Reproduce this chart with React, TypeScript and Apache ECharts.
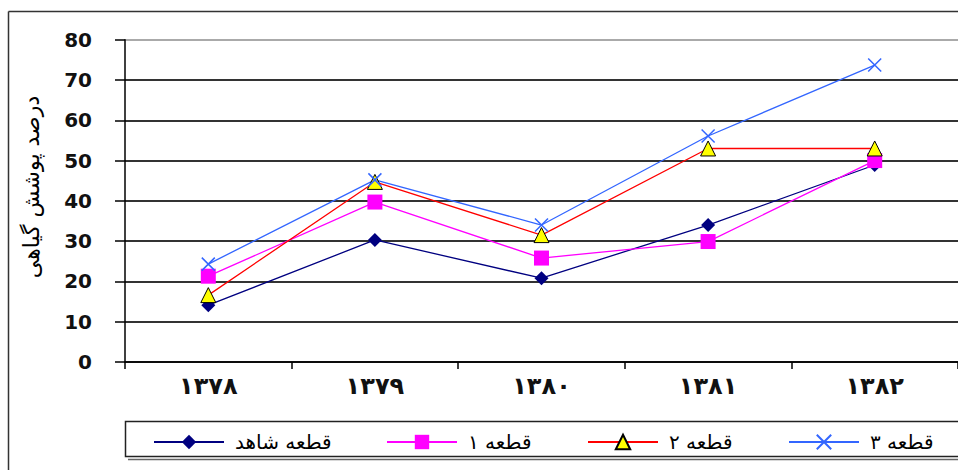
import React, { useEffect, useRef } from "react";
import * as echarts from "echarts";

const categories = ["۱۳۷۸", "۱۳۷۹", "۱۳۸۰", "۱۳۸۱", "۱۳۸۲"];
const seriesNames = ["قطعه شاهد", "قطعه ۱", "قطعه ۲", "قطعه ۳"];
const controlPlot = [14.1, 30.3, 20.8, 34, 48.9];
const plot1 = [21.3, 39.7, 25.8, 29.9, 50];
const plot2 = [16.6, 44.7, 31.5, 53, 53];
const plot3 = [24.3, 45.2, 34, 56.1, 73.7];
const yTitle = "درصد پوشش گیاهی";

const FA = '"DejaVu Sans", sans-serif';

export default function App() {
  const ref = useRef<HTMLDivElement>(null);
  useEffect(() => {
    if (!ref.current) return;
    const chart = echarts.init(ref.current, null, { renderer: "svg" });
    const legendLefts = [153, 386, 587, 788];
    const option: any = {
      animation: false,
      backgroundColor: "#fff",
      grid: { left: 125, top: 39.7, width: 840, height: 322.3, containLabel: false },
      xAxis: {
        type: "category",
        data: categories,
        boundaryGap: true,
        axisLine: { lineStyle: { color: "#000", width: 1.5 } },
        axisTick: { show: true, length: 7, lineStyle: { color: "#000", width: 1.5 } },
        axisLabel: { fontFamily: FA, fontSize: 24, fontWeight: "bold", color: "#111", margin: 12 },
        splitLine: { show: false },
      },
      yAxis: {
        type: "value",
        min: 0,
        max: 80,
        interval: 10,
        axisLine: { show: true, lineStyle: { color: "#000", width: 1.5 } },
        axisTick: { show: true, length: 10, lineStyle: { color: "#000", width: 1.5 } },
        axisLabel: {
          fontFamily: FA,
          fontWeight: "bold",
          fontSize: 20,
          color: "#111",
          margin: 33,
        },
        splitLine: {
          show: true,
          lineStyle: {
            width: 2,
            color: ["#333", "#333", "#333", "#333", "#333", "#333", "#333", "#333", "#aaa"],
          },
        },
      },
      legend: seriesNames.map((n, i) => ({
        data: [n],
        left: legendLefts[i],
        top: 432,
        padding: 0,
        itemWidth: 70,
        itemHeight: 18,
        itemGap: 0,
        selectedMode: false,
        textStyle: { fontFamily: FA, fontSize: 20, color: "#000", padding: [0, 0, 0, 6] },
      })),
      graphic: [
        {
          type: "line",
          silent: true,
          shape: { x1: 8.5, y1: 11.5, x2: 960, y2: 11.5 },
          style: { stroke: "#333", lineWidth: 1.5 },
        },
        {
          type: "line",
          silent: true,
          shape: { x1: 8.5, y1: 11.5, x2: 8.5, y2: 472 },
          style: { stroke: "#333", lineWidth: 1.5 },
        },
        {
          type: "rect",
          silent: true,
          shape: { x: 125.5, y: 421.5, width: 900, height: 35 },
          style: { fill: "none", stroke: "#222", lineWidth: 1.5 },
          z: -10,
        },
        {
          type: "line",
          silent: true,
          shape: { x1: 128, y1: 459.5, x2: 960, y2: 459.5 },
          style: { stroke: "#666", lineWidth: 1.5 },
          z: -10,
        },
        {
          type: "text",
          silent: true,
          x: 31,
          y: 187,
          rotation: Math.PI / 2,
          style: {
            text: yTitle,
            font: '22px "DejaVu Sans", sans-serif',
            fill: "#000",
            align: "center",
            verticalAlign: "middle",
          },
        },
      ],
      series: [
        {
          name: seriesNames[0],
          type: "line",
          data: controlPlot,
          symbol: "diamond",
          symbolSize: 14,
          lineStyle: { color: "#000080", width: 1.3 },
          itemStyle: { color: "#000080" },
        },
        {
          name: seriesNames[1],
          type: "line",
          data: plot1,
          symbol: "rect",
          symbolSize: 15,
          lineStyle: { color: "#FF00FF", width: 1.3 },
          itemStyle: { color: "#FF00FF" },
        },
        {
          name: seriesNames[2],
          type: "line",
          data: plot2,
          symbol: "triangle",
          symbolSize: 15,
          lineStyle: { color: "#FF0000", width: 1.3 },
          itemStyle: { color: "#FFFF00", borderColor: "#000", borderWidth: 1 },
        },
        {
          name: seriesNames[3],
          type: "line",
          data: plot3,
          symbol: "path://M0,0L10,10M10,0L0,10",
          symbolSize: 13,
          lineStyle: { color: "#3366FF", width: 1.3 },
          itemStyle: { color: "none", borderColor: "#3366FF", borderWidth: 1.5 },
        },
      ],
    };
    chart.setOption(option);
    return () => chart.dispose();
  }, []);
  return (
    <div
      ref={ref}
      style={{ position: "fixed", left: 0, top: 0, width: 958, height: 470 }}
    />
  );
}
